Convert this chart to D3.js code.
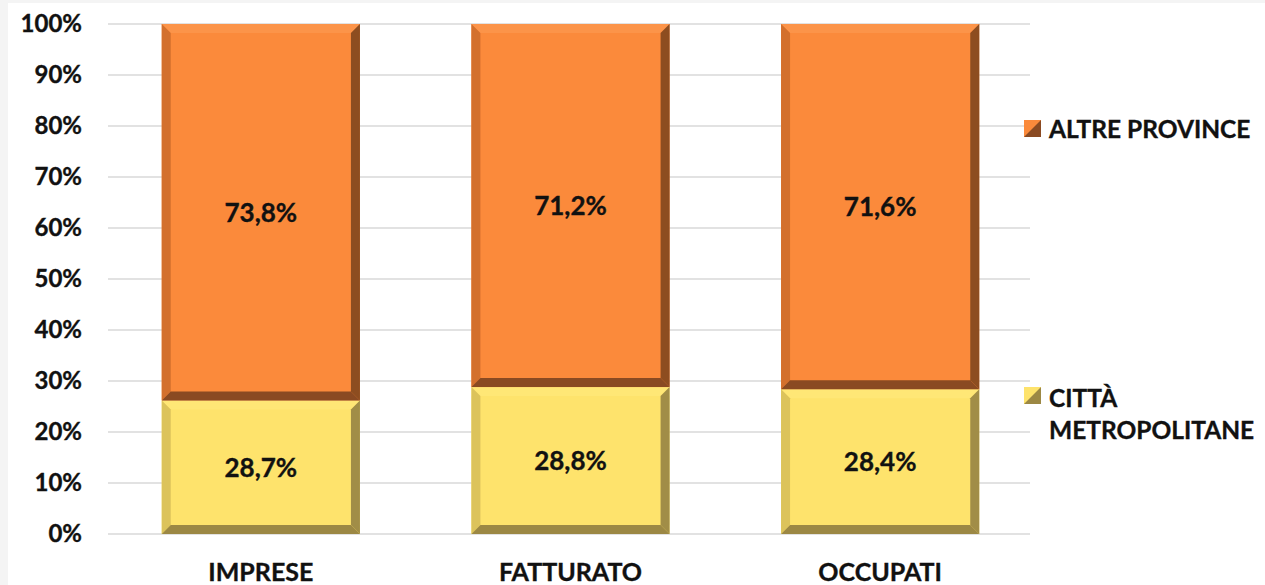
<!doctype html>
<html lang="it">
<head>
<meta charset="utf-8">
<title>Città metropolitane e altre province</title>
<script src="https://cdn.jsdelivr.net/npm/d3@7"></script>
<style>
  html, body { margin: 0; padding: 0; background: #f4f4f4; }
  svg { display: block; font-family: Lato, "Noto Sans", sans-serif; font-weight: bold; }
  svg text { stroke: #111; stroke-width: 0.35px; }
</style>
</head>
<body>
<svg id="chart" width="1265" height="585"></svg>
<script>

const categories = ['IMPRESE', 'FATTURATO', 'OCCUPATI'];
// share drawn for each segment
const cittaShare = [26.2, 28.8, 28.4];
const altreShare = [73.8, 71.2, 71.6];
// labels as printed on the bars
const cittaLabels = ['28,7%', '28,8%', '28,4%'];
const altreLabels = ['73,8%', '71,2%', '71,6%'];
const yTicks = [0, 10, 20, 30, 40, 50, 60, 70, 80, 90, 100];

const svg = d3.select('#chart');

svg.append('rect')
    .attr('x', 8).attr('y', 3)
    .attr('width', 1257).attr('height', 582)
    .attr('fill', '#fff');

const x = d3.scaleBand()
    .domain(categories)
    .range([106, 1035])
    .paddingInner(0.36)
    .paddingOuter(0.18);

const y = d3.scaleLinear()
    .domain([0, 100])
    .range([534, 24]);

// grid
svg.append('g')
    .selectAll('line')
    .data(yTicks)
    .join('line')
    .attr('x1', 108).attr('x2', 1030)
    .attr('y1', d => y(d)).attr('y2', d => y(d))
    .attr('stroke', '#d9d9d9')
    .attr('stroke-width', 1.6);

// y axis labels
const yAxis = d3.axisLeft(y)
    .tickValues(yTicks)
    .tickSize(0)
    .tickPadding(0)
    .tickFormat(d => d + '%');

svg.append('g')
    .attr('transform', 'translate(82,0)')
    .call(yAxis)
    .call(g => g.select('.domain').remove())
    .call(g => g.selectAll('text')
        .attr('font-family', 'Lato, sans-serif')
        .attr('font-weight', 'bold')
        .attr('font-size', 24)
        .attr('fill', '#111'));

// x axis labels
const xAxis = d3.axisBottom(x).tickSize(0).tickPadding(0);
svg.append('g')
    .attr('transform', 'translate(0,563)')
    .call(xAxis)
    .call(g => g.select('.domain').remove())
    .call(g => g.selectAll('text')
        .attr('dy', '0.72em')
        .attr('font-family', 'Lato, sans-serif')
        .attr('font-weight', 'bold')
        .attr('font-size', 25)
        .attr('fill', '#111'));

const palettes = {
  altre: { face: '#fb8a3b', top: '#fc9449', left: '#d3702d', right: '#8d4d20', bottom: '#8a4a22' },
  citta: { face: '#fee36c', top: '#ffe776', left: '#dcc35b', right: '#a18d47', bottom: '#9c8844' }
};

function bevelBar(g, x0, y0, x1, y1, p) {
  const b = 9;
  g.append('rect')
      .attr('x', x0).attr('y', y0)
      .attr('width', x1 - x0).attr('height', y1 - y0)
      .attr('fill', p.face);
  const poly = (pts, c) => g.append('polygon')
      .attr('points', pts.map(q => q.join(',')).join(' '))
      .attr('fill', c);
  poly([[x0, y0], [x1, y0], [x1 - b, y0 + b], [x0 + b, y0 + b]], p.top);
  poly([[x0, y0], [x0 + b, y0 + b], [x0 + b, y1 - b], [x0, y1]], p.left);
  poly([[x1, y0], [x1, y1], [x1 - b, y1 - b], [x1 - b, y0 + b]], p.right);
  poly([[x0, y1], [x0 + b, y1 - b], [x1 - b, y1 - b], [x1, y1]], p.bottom);
}

const bars = svg.append('g');
categories.forEach((c, i) => {
  const x0 = x(c), x1 = x(c) + x.bandwidth();
  const split = y(cittaShare[i]);
  bevelBar(bars, x0, split, x1, y(0), palettes.citta);
  bevelBar(bars, x0, y(100), x1, split, palettes.altre);

  bars.append('text')
      .attr('x', x0 + x.bandwidth() / 2)
      .attr('y', (y(0) + split) / 2)
      .attr('dy', '0.36em')
      .attr('text-anchor', 'middle')
      .attr('font-size', 26)
      .attr('fill', '#111')
      .text(cittaLabels[i]);

  bars.append('text')
      .attr('x', x0 + x.bandwidth() / 2)
      .attr('y', (y(100) + split) / 2)
      .attr('dy', '0.36em')
      .attr('text-anchor', 'middle')
      .attr('font-size', 26)
      .attr('fill', '#111')
      .text(altreLabels[i]);
});

// legend
const defs = svg.append('defs');
[['gAltre', '#fb8a3b', '#8a4a22'], ['gCitta', '#fee36c', '#9c8844']].forEach(([id, c1, c2]) => {
  const lg = defs.append('linearGradient').attr('id', id)
      .attr('x1', 0).attr('y1', 0).attr('x2', 1).attr('y2', 1);
  lg.append('stop').attr('offset', '48%').attr('stop-color', c1);
  lg.append('stop').attr('offset', '52%').attr('stop-color', c2);
});

const legend = svg.append('g');
legend.append('rect').attr('x', 1024).attr('y', 120).attr('width', 17).attr('height', 17)
    .attr('fill', 'url(#gAltre)');
legend.append('text').attr('x', 1049).attr('y', 129).attr('dy', '0.36em')
    .attr('font-size', 24.5).attr('fill', '#111')
    .text('ALTRE PROVINCE');

legend.append('rect').attr('x', 1024).attr('y', 387).attr('width', 17).attr('height', 17)
    .attr('fill', 'url(#gCitta)');
legend.append('text').attr('x', 1049).attr('y', 398).attr('dy', '0.36em')
    .attr('font-size', 24.5).attr('fill', '#111')
    .text('CITTÀ');
legend.append('text').attr('x', 1049).attr('y', 430).attr('dy', '0.36em')
    .attr('font-size', 24.5).attr('fill', '#111')
    .text('METROPOLITANE');

</script>
</body>
</html>
